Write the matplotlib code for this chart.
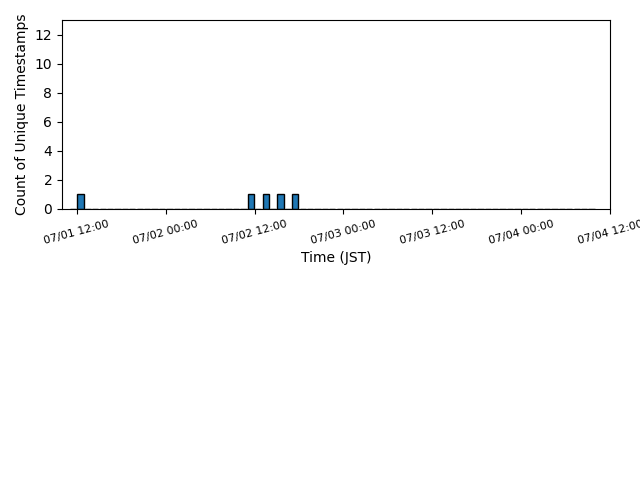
import matplotlib
matplotlib.use("Agg")
import matplotlib.pyplot as plt
import matplotlib.dates as mdates
from matplotlib.ticker import MultipleLocator
from datetime import datetime, timedelta

# Hourly bins starting 07/01 11:00 JST
bin_start = "2024-07-01 11:00"
counts = [
    0, 1, 0, 0, 0, 0, 0, 0, 0, 0, 0, 0, 0, 0, 0, 0, 0, 0, 0, 0, 0, 0, 0, 0,
    1, 0, 1, 0, 1, 0, 1, 0, 0, 0, 0, 0, 0, 0, 0, 0, 0, 0, 0, 0, 0, 0, 0, 0,
    0, 0, 0, 0, 0, 0, 0, 0, 0, 0, 0, 0, 0, 0, 0, 0, 0, 0, 0, 0, 0, 0, 0,
]
x_start = "2024-07-01 10:00"
x_end = "2024-07-04 12:00"
y_max = 13
x_label = "Time (JST)"
y_label = "Count of Unique Timestamps"

t0 = datetime.strptime(bin_start, "%Y-%m-%d %H:%M")
centers = [t0 + timedelta(hours=i, minutes=30) for i in range(len(counts))]

fig = plt.figure(figsize=(6.4, 4.8), dpi=100)
ax = fig.add_axes([62/640, 1 - 209/480, (610 - 62)/640, (209 - 20)/480])
ax.bar(mdates.date2num(centers), counts, width=0.85/24, align="center",
       color="#1f77b4", edgecolor="black")
ax.set_xlim(mdates.date2num(datetime.strptime(x_start, "%Y-%m-%d %H:%M")),
            mdates.date2num(datetime.strptime(x_end, "%Y-%m-%d %H:%M")))
ax.set_ylim(0, y_max)
ax.yaxis.set_major_locator(MultipleLocator(2))
ax.xaxis.set_major_locator(mdates.HourLocator(byhour=[0, 12]))
ax.xaxis.set_major_formatter(mdates.DateFormatter("%m/%d %H:%M"))
for lbl in ax.get_xticklabels():
    lbl.set_rotation(15)
    lbl.set_fontsize(8)
ax.set_xlabel(x_label)
ax.set_ylabel(y_label)
fig.savefig("out.png", dpi=100)
